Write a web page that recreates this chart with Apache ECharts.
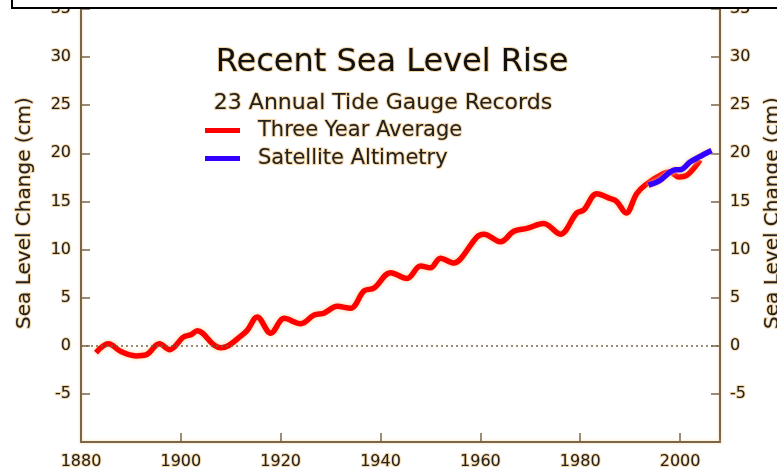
<!DOCTYPE html>
<html>
<head>
<meta charset="utf-8">
<script src="https://cdn.jsdelivr.net/npm/echarts@6/dist/echarts.min.js"></script>
<style>html,body{margin:0;padding:0;background:#fff;}#c{width:777px;height:472px;}</style>
</head>
<body>
<div id="c"></div>
<script>
// Three Year Average (tide gauges)
var tideYears = [1883, 1885.5, 1888, 1891, 1893, 1895.7, 1897.8, 1900.5, 1902, 1903.3, 1906.7, 1908, 1909.5, 1911.5, 1913.3, 1915.3, 1918, 1920.7, 1924, 1926.7, 1928.7, 1931.3, 1934, 1936.7, 1938.7, 1942, 1945.3, 1948, 1950, 1952, 1954.7, 1956, 1959.3, 1960.7, 1964, 1966.7, 1969.3, 1972.7, 1976, 1979.3, 1980.7, 1983.3, 1986, 1987.3, 1989.2, 1991.3, 1993, 1996.7, 1998, 1999.7, 2001.3, 2003, 2004];
var tideValues = [-0.7, 0.2, -0.6, -1.05, -0.95, 0.2, -0.4, 0.9, 1.15, 1.55, 0.05, -0.2, 0.0, 0.8, 1.6, 3.0, 1.3, 2.85, 2.3, 3.2, 3.4, 4.1, 3.9, 5.7, 6.0, 7.6, 7.0, 8.3, 8.1, 9.1, 8.6, 9.0, 11.3, 11.6, 10.8, 11.9, 12.2, 12.7, 11.6, 13.8, 14.1, 15.8, 15.3, 15.0, 13.8, 15.8, 16.7, 17.9, 18.05, 17.55, 17.7, 18.6, 19.3];
// Satellite Altimetry
var satYears = [1993.7, 1996, 1998, 1999, 2000, 2002, 2003.7, 2006.3];
var satValues = [16.7, 17.2, 18.05, 18.3, 18.3, 19.1, 19.6, 20.3];

var xTickLabels = ['1880', '1900', '1920', '1940', '1960', '1980', '2000'];
var yTickLabels = ['-5', '0', '5', '10', '15', '20', '25', '30', '35'];

var seriesNames = ['Three Year Average', 'Satellite Altimetry'];
var titleText = 'Recent Sea Level Rise';
var subtitleText = '23 Annual Tide Gauge Records';
var axisName = 'Sea Level Change (cm)';

function pairs(xs, ys) { return xs.map(function (x, i) { return [x, ys[i]]; }); }

var FONT = 'DejaVu Sans';
var HALO = '#f6d6a6';
var AXIS = '#7a6748';
var TXT = '#222';

var yAxisBase = {
  type: 'value', min: -10, max: 35, interval: 5,
  splitLine: { show: false },
  axisLine: { show: true, lineStyle: { color: AXIS, width: 2, shadowColor: HALO, shadowBlur: 3 } },
  axisTick: { show: true, inside: true, length: 9, lineStyle: { color: AXIS, width: 1.5 } },
  axisLabel: {
    margin: 10, fontFamily: FONT, fontSize: 16, color: TXT,
    textBorderColor: HALO, textBorderWidth: 2,
    formatter: function (v) { var s = String(v); return yTickLabels.indexOf(s) >= 0 ? s : ''; }
  },
  name: axisName, nameLocation: 'middle', nameRotate: 90,
  nameTextStyle: { fontFamily: FONT, fontSize: 20, color: TXT, textBorderColor: HALO, textBorderWidth: 2, padding: [0, 0, 0, 25] }
};

var chart = echarts.init(document.getElementById('c'));
chart.setOption({
  animation: false,
  backgroundColor: '#fff',
  title: [
    { text: titleText, left: 387, top: 42, textAlign: 'center',
      textStyle: { fontFamily: FONT, fontWeight: 'normal', fontSize: 32, color: '#111', textBorderColor: HALO, textBorderWidth: 2 } },
    { text: subtitleText, left: 378, top: 87, textAlign: 'center',
      textStyle: { fontFamily: FONT, fontWeight: 'normal', fontSize: 22, color: TXT, textBorderColor: HALO, textBorderWidth: 2 } }
  ],
  legend: {
    orient: 'vertical', left: 205, top: 119, padding: 0, icon: 'rect', itemWidth: 35, itemHeight: 5, itemGap: 5,
    data: seriesNames,
    textStyle: { fontFamily: FONT, fontSize: 21, color: TXT, textBorderColor: HALO, textBorderWidth: 2, padding: [0, 0, 0, 13] }
  },
  grid: { left: 81, right: 57, top: 9, bottom: 30, containLabel: false, outerBoundsMode: 'none' },
  xAxis: {
    type: 'value', min: 1880, max: 2008, interval: 20,
    splitLine: { show: false },
    axisLine: { show: true, onZero: false, lineStyle: { color: AXIS, width: 2, shadowColor: HALO, shadowBlur: 3 } },
    axisTick: { show: true, inside: true, length: 9, lineStyle: { color: AXIS, width: 1.5 } },
    axisLabel: {
      margin: 12, fontFamily: FONT, fontSize: 16, color: TXT, textBorderColor: HALO, textBorderWidth: 2,
      showMaxLabel: false,
      formatter: function (v) { var s = String(v); return xTickLabels.indexOf(s) >= 0 ? s : ''; }
    }
  },
  yAxis: [
    Object.assign({}, yAxisBase, { position: 'left', nameGap: 46 }),
    Object.assign({}, yAxisBase, { position: 'right', nameGap: 34 })
  ],
  series: [
    {
      name: seriesNames[0], type: 'line', data: pairs(tideYears, tideValues),
      smooth: 0.35, showSymbol: false, symbol: 'none', color: '#ff0000', z: 3,
      lineStyle: { width: 5.5, color: '#ff0000', shadowColor: '#f4cf9a', shadowBlur: 4 },
      markLine: {
        silent: true, symbol: ['none', 'none'], label: { show: false },
        lineStyle: { type: [2, 3], color: AXIS, width: 1.5 },
        data: [{ yAxis: 0 }]
      }
    },
    {
      name: seriesNames[1], type: 'line', data: pairs(satYears, satValues),
      smooth: 0.35, showSymbol: false, symbol: 'none', color: '#3300ff', z: 4,
      lineStyle: { width: 5.5, color: '#3300ff', shadowColor: '#f4cf9a', shadowBlur: 4 }
    }
  ],
  graphic: [
    { type: 'rect', z: 100, shape: { x: 12, y: -10, width: 800, height: 18 },
      style: { fill: '#fff', stroke: '#000', lineWidth: 2 } }
  ]
});
</script>
</body>
</html>
